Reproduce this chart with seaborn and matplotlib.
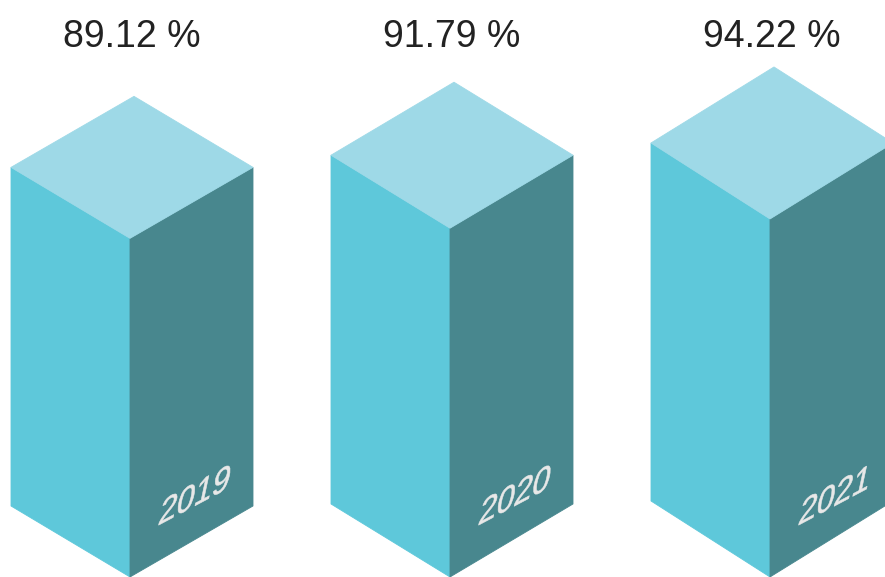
import matplotlib
matplotlib.use("Agg")
import matplotlib.pyplot as plt
import matplotlib.patheffects as pe
from matplotlib.transforms import Affine2D
import seaborn as sns

years = ["2019", "2020", "2021"]
rates = [89.12, 91.79, 94.22]
value_labels = ["89.12 %", "91.79 %", "94.22 %"]

LEFT_C = "#5ec8da"
TOP_C = "#9ed9e7"
RIGHT_C = "#48878e"
YEAR_C = "#e8e8e8"

sns.set_theme(style="white")
plt.rcParams["font.family"] = ["Liberation Sans", "DejaVu Sans"]


class IsoSkew(pe.AbstractPathEffect):
    """Shear glyphs so the text sits flat on the right face of the block"""

    def __init__(self, xdeg, ydeg, sx=1.0, sy=1.0, stroke=0.0):
        super().__init__()
        self.xdeg = xdeg
        self.ydeg = ydeg
        self.sx = sx
        self.sy = sy
        self.stroke = stroke

    def draw_path(self, renderer, gc, tpath, affine, rgbFace=None):
        skew = Affine2D().scale(self.sx, self.sy).skew_deg(self.xdeg, self.ydeg)
        gc0 = renderer.new_gc()
        gc0.copy_properties(gc)
        gc0.set_linewidth(self.stroke)
        gc0.set_foreground(rgbFace)
        renderer.draw_path(gc0, tpath, skew + affine, rgbFace)
        gc0.restore()


fig = plt.figure(figsize=(8.85, 5.77), dpi=100)
ax = fig.add_axes([0, 0, 1, 1])
ax.set_xlim(0, 885)
ax.set_ylim(0, 577)
ax.axis("off")

px_per_pct = 3.8          # vertical scale
wl, wr = 119, 123         # widths of left / right faces
rises = [71, 73, 76]      # slight perspective: deeper tilt to the right
x0, step = 130, 320

for i, (yr, val, lab) in enumerate(zip(years, rates, value_labels)):
    xf = x0 + i * step
    h = val * px_per_pct
    rise = rises[i]
    left = [(xf, 0), (xf - wl, rise), (xf - wl, rise + h), (xf, h)]
    right = [(xf, 0), (xf + wr, rise), (xf + wr, rise + h), (xf, h)]
    top = [(xf, h), (xf - wl, h + rise), (xf - wl + wr, h + 2 * rise), (xf + wr, h + rise)]
    ax.fill(*zip(*left), color=LEFT_C, ec=LEFT_C, lw=0.6)
    ax.fill(*zip(*right), color=RIGHT_C, ec=RIGHT_C, lw=0.6)
    ax.fill(*zip(*top), color=TOP_C, ec=TOP_C, lw=0.6)

    ax.text(xf - wl / 2 + wr / 2, 530, lab, ha="center", va="baseline",
            fontsize=27, color="#222222")

    ax.text(xf + 27, 51, yr, ha="left", va="baseline", fontsize=25,
            color=YEAR_C,
            path_effects=[IsoSkew(12, 28, sx=0.92, sy=1.08, stroke=0.4)])

fig.savefig("out.png", dpi=100)
